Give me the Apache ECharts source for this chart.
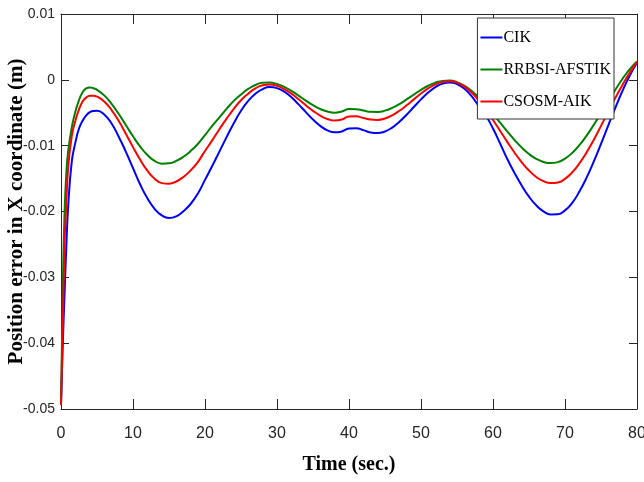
<!DOCTYPE html>
<html>
<head>
<meta charset="utf-8">
<script src="https://cdn.jsdelivr.net/npm/echarts@6/dist/echarts.min.js"></script>
<style>
html,body{margin:0;padding:0;background:#fff;}
#chart{width:644px;height:482px;}
</style>
</head>
<body>
<div id="chart"></div>
<script>
var seriesNames = ['CIK', 'RRBSI-AFSTIK', 'CSOSM-AIK'];
var xTicks = [0, 10, 20, 30, 40, 50, 60, 70, 80];
var yTicks = [-0.05, -0.04, -0.03, -0.02, -0.01, 0, 0.01];

var time = [0, 0.25, 0.5, 0.75, 1, 1.5, 2, 2.5, 3, 3.5, 4, 4.5, 5,
  6, 7, 8, 9, 10, 11, 12, 13, 14, 15, 16, 17, 18, 19, 20,
  21, 22, 23, 24, 25, 26, 27, 28, 29, 30, 31, 32, 33, 34, 35,
  36, 37, 38, 39, 40, 41, 42, 43, 44, 45, 46, 47, 48, 49, 50,
  51, 52, 53, 54, 55, 56, 57, 58, 59, 60, 61, 62, 63, 64, 65,
  66, 67, 68, 69, 70, 71, 72, 73, 74, 75, 76, 77, 78, 79, 80];

var cik = [-0.0494, -0.0400, -0.0324, -0.0250, -0.0192, -0.0124, -0.0095, -0.0074, -0.0062, -0.0054, -0.0049, -0.00472, -0.00471,
  -0.00525, -0.0066, -0.0086, -0.0109, -0.0134, -0.0159, -0.0180, -0.0196, -0.0206, -0.0210, -0.02075, -0.01997, -0.01886, -0.0173, -0.0152,
  -0.0131, -0.0109, -0.0087, -0.0066, -0.0047, -0.0032, -0.0021, -0.0014, -0.0011, -0.00126, -0.0018, -0.00266, -0.00373, -0.0049, -0.00603,
  -0.00699, -0.00767, -0.00798, -0.00784, -0.00739, -0.00734, -0.00764, -0.00799, -0.00809, -0.00784, -0.00725, -0.00637, -0.0053, -0.00413, -0.00297,
  -0.00193, -0.0011, -0.00058, -0.0004, -0.00064, -0.00133, -0.00245, -0.00395, -0.0054, -0.0074, -0.0097, -0.01207, -0.01417, -0.01608, -0.01775,
  -0.01906, -0.01998, -0.02044, -0.02043, -0.01983, -0.0187, -0.01698, -0.01486, -0.0124, -0.00973, -0.00695, -0.00422, -0.00164, 0.00066, 0.0026];

var rrbsi = [-0.0494, -0.0318, -0.0200, -0.0140, -0.0108, -0.0072, -0.0048, -0.0031, -0.0019, -0.0013, -0.00116, -0.00128, -0.00152,
  -0.00236, -0.00361, -0.00516, -0.00686, -0.00858, -0.01014, -0.01143, -0.01232, -0.01273, -0.01268, -0.01232, -0.01169, -0.01082, -0.00974, -0.0084,
  -0.0070, -0.0057, -0.0044, -0.0032, -0.00223, -0.00138, -0.00078, -0.00045, -0.00042, -0.00064, -0.00107, -0.00168, -0.0024, -0.00315, -0.00385,
  -0.00443, -0.00482, -0.0050, -0.00481, -0.00443, -0.00445, -0.00466, -0.00486, -0.00488, -0.00468, -0.00426, -0.00368, -0.00298, -0.00224, -0.00152,
  -0.0009, -0.00043, -0.00016, -0.00011, -0.00035, -0.00087, -0.00166, -0.00266, -0.00385, -0.00515, -0.00651, -0.00787, -0.00915, -0.0103, -0.01127,
  -0.0120, -0.01247, -0.01265, -0.0125, -0.01197, -0.0111, -0.00991, -0.00847, -0.00683, -0.00507, -0.00327, -0.0015, 0.00016, 0.00163, 0.0028];

var csosm = [-0.0494, -0.0370, -0.0250, -0.0185, -0.0133, -0.0085, -0.0062, -0.0045, -0.0033, -0.0027, -0.00243, -0.00241, -0.00255,
  -0.00328, -0.00455, -0.00623, -0.00818, -0.01022, -0.01215, -0.0138, -0.01502, -0.01569, -0.01577, -0.01544, -0.01476, -0.01376, -0.01249, -0.0108,
  -0.0092, -0.0075, -0.0059, -0.0044, -0.0031, -0.0021, -0.00129, -0.00082, -0.00071, -0.00091, -0.0014, -0.0021, -0.00295, -0.00386, -0.00472,
  -0.00544, -0.00595, -0.00619, -0.00603, -0.00556, -0.00555, -0.00579, -0.00603, -0.00609, -0.00587, -0.00539, -0.0047, -0.00387, -0.00297, -0.00208,
  -0.0013, -0.00069, -0.00031, -0.0002, -0.00042, -0.001, -0.0019, -0.0031, -0.00452, -0.00611, -0.00778, -0.00946, -0.01107, -0.01253, -0.01378,
  -0.01475, -0.01539, -0.01568, -0.01559, -0.01504, -0.01406, -0.0127, -0.01102, -0.00909, -0.007, -0.00484, -0.00273, -0.00073, 0.0011, 0.0027];

var colors = ['#0000ff', '#008000', '#ff0000'];
var values = [cik, rrbsi, csosm];

function pairs(v) { return time.map(function (t, i) { return [t, v[i]]; }); }

var axisColor = '#262626';
var tickFont = "'Liberation Sans', Arial, sans-serif";
var serifFont = "'Liberation Serif', 'Times New Roman', serif";

function xAx(pos, show) {
  return {
    type: 'value', position: pos, min: xTicks[0], max: xTicks[xTicks.length - 1], interval: 10,
    axisLine: { show: true, onZero: false, lineStyle: { color: axisColor, width: 1 } },
    axisTick: { show: true, inside: true, length: 10, lineStyle: { color: axisColor } },
    axisLabel: { show: show, color: axisColor, fontFamily: tickFont, fontSize: 16, margin: 17 },
    splitLine: { show: false },
    name: show ? 'Time (sec.)' : '', nameLocation: 'middle', nameGap: 46, nameMoveOverlap: false,
    nameTextStyle: { fontFamily: serifFont, fontWeight: 'bold', fontSize: 20, color: '#000' }
  };
}
function yAx(pos, show) {
  return {
    type: 'value', position: pos, min: yTicks[0], max: yTicks[yTicks.length - 1], interval: 0.01,
    axisLine: { show: true, onZero: false, lineStyle: { color: axisColor, width: 1 } },
    axisTick: { show: true, inside: true, length: 8, lineStyle: { color: axisColor } },
    axisLabel: { show: show, color: axisColor, fontFamily: tickFont, fontSize: 14, margin: 6 },
    splitLine: { show: false },
    name: show ? 'Position error in X coordinate (m)' : '', nameLocation: 'middle', nameGap: 34, nameMoveOverlap: false,
    nameTextStyle: { fontFamily: serifFont, fontWeight: 'bold', fontSize: 21, color: '#000' }
  };
}

var chart = echarts.init(document.getElementById('chart'), null, { renderer: 'canvas' });
chart.setOption({
  animation: false,
  backgroundColor: '#fff',
  grid: { left: 61, right: 7, top: 14, bottom: 73, containLabel: false, outerBoundsMode: 'none' },
  xAxis: [xAx('bottom', true), xAx('top', false)],
  yAxis: [yAx('left', true), yAx('right', false)],
  legend: {
    data: seriesNames,
    orient: 'vertical',
    right: 30, top: 18,
    padding: [11, 3, 9, 3],
    itemGap: 15,
    itemWidth: 22, itemHeight: 2,
    icon: 'rect',
    backgroundColor: '#fff',
    borderColor: '#333',
    borderWidth: 1,
    textStyle: { fontFamily: serifFont, fontSize: 16, lineHeight: 17, color: '#000', padding: [0, 0, 0, -4] }
  },
  series: seriesNames.map(function (n, i) {
    return {
      name: n, type: 'line', data: pairs(values[i]), smooth: true, showSymbol: false,
      xAxisIndex: 0, yAxisIndex: 0,
      lineStyle: { color: colors[i], width: 2 }, itemStyle: { color: colors[i] }
    };
  })
});
</script>
</body>
</html>
